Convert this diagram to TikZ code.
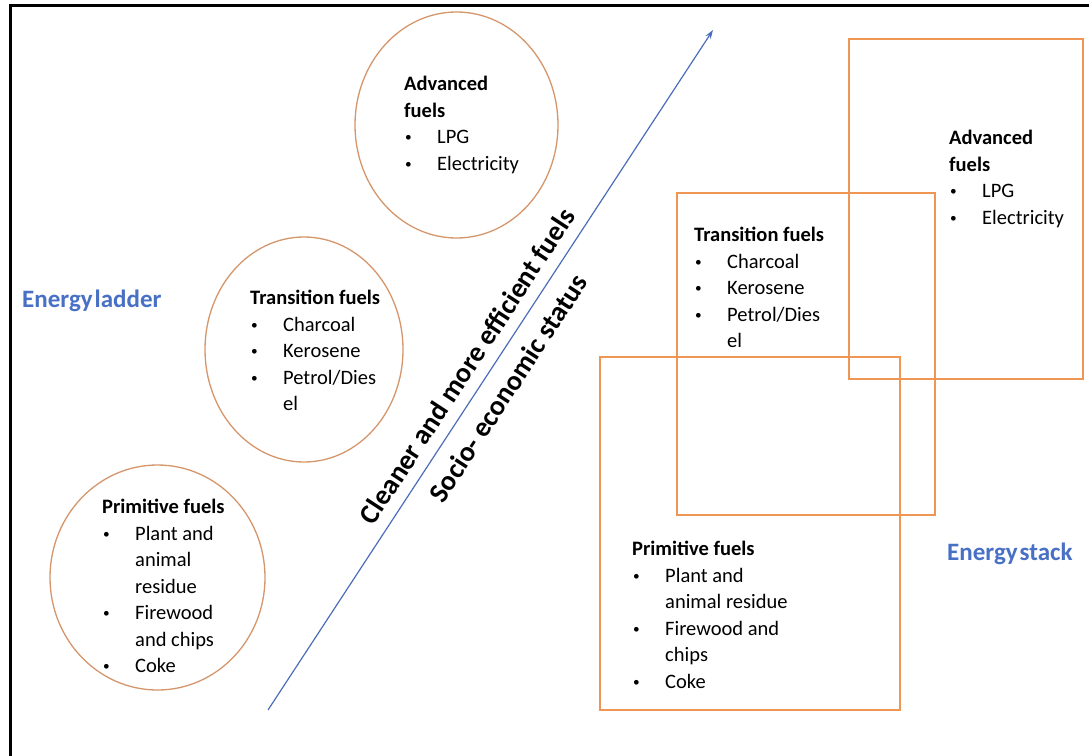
\documentclass[tikz,border=0pt]{standalone}
\usepackage{fontspec}
\setmainfont{Carlito}
\usetikzlibrary{shapes.geometric,arrows.meta}
\definecolor{circc}{RGB}{214,150,108}
\definecolor{boxc}{RGB}{240,150,85}
\definecolor{arrc}{RGB}{75,110,185}
\definecolor{lblc}{RGB}{72,112,196}
\newcommand{\bul}[1]{\makebox[33pt][l]{\hspace{1pt}\raisebox{2pt}{\scalebox{0.65}{•}}}#1}
\newcommand{\cnt}[1]{\hspace*{33pt}#1}
\newcommand{\ttl}[1]{\textbf{#1}}
\tikzset{
  fuelcirc/.style={ellipse, draw=circc, line width=1.3pt, inner sep=0pt},
  fuelbox/.style={rectangle, draw=boxc, line width=1.5pt, inner sep=0pt},
  txt/.style={anchor=base west, inner sep=0pt, font=\fontsize{20.5}{26.5}\selectfont},
  biglbl/.style={anchor=base west, inner sep=0pt, text=lblc, font=\fontsize{25}{29}\selectfont\bfseries},
  rotlbl/.style={inner sep=0pt, rotate=56.8, font=\fontsize{28}{32}\selectfont\bfseries},
  axis/.style={draw=arrc, line width=1.2pt, -{Stealth[length=9pt,width=6pt]}}
}
\begin{document}
\begin{tikzpicture}[x=1pt,y=-1pt]
\clip (0,0) rectangle (1089,755);
\fill[white] (0,0) rectangle (1089,755);
\draw[line width=3pt] (10,5) rectangle (1110,780);

% ladder circles
\node[fuelcirc, minimum width=203pt, minimum height=226pt] (advC) at (456.5,125) {};
\node[fuelcirc, minimum width=198pt, minimum height=225pt] (trnC) at (304,349.5) {};
\node[fuelcirc, minimum width=215pt, minimum height=225pt] (prmC) at (157.5,577.5) {};

\node[txt] (advCt) at (404,90.5) {\begin{tabular}[t]{@{}l@{}}\ttl{Advanced}\\ \ttl{fuels}\\ \bul{LPG}\\ \bul{Electricity}\end{tabular}};
\node[txt] (trnCt) at (250,304.5) {\begin{tabular}[t]{@{}l@{}}\ttl{Transition fuels}\\ \bul{Charcoal}\\ \bul{Kerosene}\\ \bul{Petrol/Dies}\\ \cnt{el}\end{tabular}};
\node[txt] (prmCt) at (102,513.5) {\begin{tabular}[t]{@{}l@{}}\ttl{Primitive fuels}\\ \bul{Plant and}\\ \cnt{animal}\\ \cnt{residue}\\ \bul{Firewood}\\ \cnt{and chips}\\ \bul{Coke}\end{tabular}};

% stack boxes
\node[fuelbox, minimum width=234pt, minimum height=340pt] (advB) at (966,209) {};
\node[fuelbox, minimum width=258pt, minimum height=322pt] (trnB) at (806,354) {};
\node[fuelbox, minimum width=300pt, minimum height=353pt] (prmB) at (750,533.5) {};

\node[txt] (advBt) at (949,144.5) {\begin{tabular}[t]{@{}l@{}}\ttl{Advanced}\\ \ttl{fuels}\\ \bul{LPG}\\ \bul{Electricity}\end{tabular}};
\node[txt] (trnBt) at (694,241.5) {\begin{tabular}[t]{@{}l@{}}\ttl{Transition fuels}\\ \bul{Charcoal}\\ \bul{Kerosene}\\ \bul{Petrol/Dies}\\ \cnt{el}\end{tabular}};
\node[txt] (prmBt) at (632,555.5) {\begin{tabular}[t]{@{}l@{}}\ttl{Primitive fuels}\\ \bul{Plant and}\\ \cnt{animal residue}\\ \bul{Firewood and}\\ \cnt{chips}\\ \bul{Coke}\end{tabular}};

% labels
\node[biglbl] (ladder) at (22,307) {Energy\hspace{2pt}ladder};
\node[biglbl] (stack) at (947,560) {Energy\hspace{2pt}stack};

% arrow
\coordinate (arS) at (268,710);
\coordinate (arE) at (713,30);
\draw[axis] (arS) -- (arE);
\node[rotlbl] (clean) at (467,366) {Cleaner and more efficient fuels};
\node[rotlbl] (socio) at (508,388) {Socio- economic status};
\end{tikzpicture}
\end{document}
